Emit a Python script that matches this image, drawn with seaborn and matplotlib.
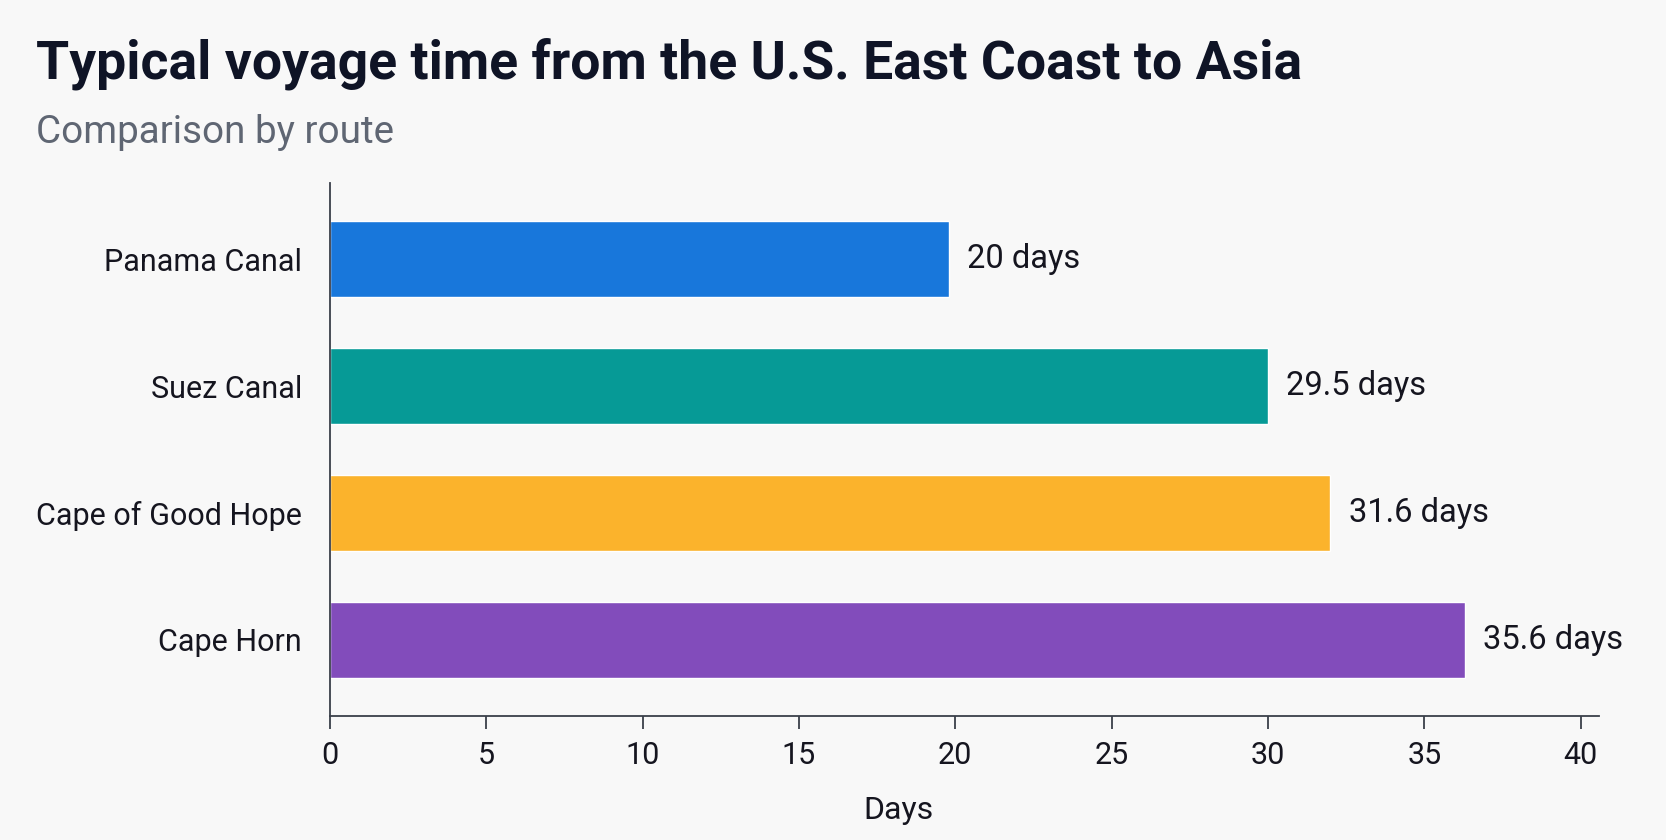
import matplotlib
matplotlib.use("Agg")
import matplotlib.pyplot as plt
import seaborn as sns
import pandas as pd

routes = ["Panama Canal", "Suez Canal", "Cape of Good Hope", "Cape Horn"]
days = [19.8, 30.0, 32.0, 36.3]
labels = ["20 days", "29.5 days", "31.6 days", "35.6 days"]
colors = ["#1877DB", "#069A96", "#FBB32C", "#824CBB"]
xticks = [0, 5, 10, 15, 20, 25, 30, 35, 40]

sns.set_theme(style="white")
plt.rcParams["font.family"] = ["Roboto", "DejaVu Sans"]

BG = "#F8F8F8"
fig = plt.figure(figsize=(16.66, 8.4), dpi=100, facecolor=BG)
ax = fig.add_axes([0.198, 0.1476, 0.762, 0.6344], facecolor=BG)

df = pd.DataFrame({"route": routes, "days": days})
sns.barplot(data=df, x="days", y="route", hue="route", palette=colors,
            legend=False, width=0.6, orient="h", ax=ax, saturation=1)

ax.set_xlim(0, 40.6)
ax.set_ylim(3.6, -0.6)
ax.set_xticks(xticks)
ax.set_xticklabels([str(t) for t in xticks])

for i, (v, t) in enumerate(zip(days, labels)):
    ax.annotate(t, xy=(v, i), xytext=(13, 0), textcoords="offset points",
                va="center", ha="left", fontsize=23.5, color="#15151F")

for s in ["top", "right"]:
    ax.spines[s].set_visible(False)
for s in ["left", "bottom"]:
    ax.spines[s].set_color("#3A3F4A")
    ax.spines[s].set_linewidth(1.3)

ax.tick_params(axis="x", length=9, width=1.3, color="#3A3F4A", pad=9,
               labelsize=22, labelcolor="#15151F", bottom=True)
ax.tick_params(axis="y", length=0, pad=20, labelsize=22, labelcolor="#15151F")
ax.set_ylabel("")
ax.set_xlabel("Days", fontsize=23, color="#15151F")
ax.xaxis.set_label_coords(0.448, -0.15)

fig.text(0.0216, 0.924, "Typical voyage time from the U.S. East Coast to Asia",
         fontsize=38.5, fontweight="bold", color="#0F1426", va="center", ha="left")
fig.text(0.0216, 0.842, "Comparison by route", fontsize=27.8, color="#5F6673",
         va="center", ha="left")

fig.savefig("out.png", dpi=100, facecolor=BG)
